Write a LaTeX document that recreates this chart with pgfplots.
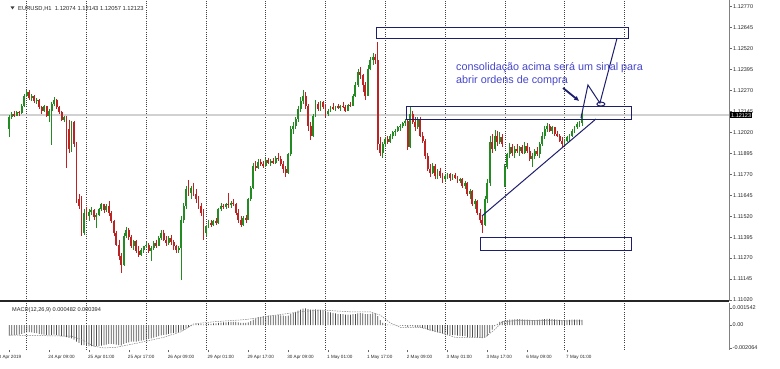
\documentclass[border=0pt]{standalone}
\usepackage{pgfplots}
\pgfplotsset{compat=1.18}
\usepackage{pgfplotstable}
\usetikzlibrary{arrows.meta}
\usepackage{fontspec}
\setmainfont{Liberation Sans}
\definecolor{bull}{RGB}{34,139,34}
\definecolor{bear}{RGB}{190,35,35}
\definecolor{navy}{RGB}{30,30,110}
\definecolor{notecol}{RGB}{70,70,205}

% prices stored as (price - 1.11000) x 100000
\pgfplotstableread{
i o h l c
-7 1040 1125 990 1110
-6 1110 1140 1100 1130
-5 1130 1145 1110 1120
-4 1120 1150 1115 1140
-3 1140 1150 1120 1135
-2 1135 1190 1130 1175
-1 1175 1250 1170 1240
0 1240 1273 1230 1262
1 1262 1270 1215 1225
2 1225 1250 1210 1240
3 1240 1245 1195 1205
4 1205 1225 1190 1215
5 1215 1220 1160 1170
6 1170 1180 1130 1150
7 1150 1185 1140 1175
8 1175 1180 1110 1120
9 1120 1160 1082 1150
10 1150 1200 945 1190
11 1190 1231 1180 1215
12 1215 1220 1160 1170
13 1170 1180 1130 1140
14 1140 1150 1090 1095
15 1095 1120 1085 1110
16 1110 1120 810 1040
17 1040 1095 900 920
18 920 1090 905 1080
19 1080 1090 930 950
20 950 960 600 620
21 620 650 560 580
22 580 640 400 420
23 420 560 410 540
24 540 575 500 520
25 520 560 490 545
26 545 575 530 555
27 555 560 500 515
28 515 540 450 530
29 530 570 520 560
30 560 600 550 590
31 590 595 540 555
32 555 590 545 580
33 580 610 520 540
34 540 550 480 490
35 490 500 400 420
36 420 430 340 350
37 350 380 260 280
38 280 300 181 230
39 230 420 225 400
40 400 456 390 440
41 440 450 380 395
42 395 410 330 345
43 345 380 320 370
44 370 375 300 310
45 310 340 276 290
46 290 330 285 320
47 320 345 300 340
48 340 366 330 350
49 350 360 300 310
50 310 340 250 330
51 330 370 320 360
52 360 380 330 345
53 345 400 340 390
54 390 438 380 420
55 420 440 370 380
56 380 400 340 360
57 360 400 350 390
58 390 410 350 365
59 365 380 320 340
60 340 350 300 320
61 320 345 300 330
62 330 520 139 500
63 500 600 480 580
64 580 700 560 680
65 680 736 640 660
66 660 700 620 690
67 690 720 640 650
68 650 680 600 620
69 620 640 560 580
70 580 600 520 540
71 540 560 380 420
72 420 470 400 460
73 460 500 450 480
74 480 495 455 470
75 470 500 460 490
76 490 510 470 480
77 480 570 475 560
78 560 600 550 580
79 580 590 560 575
80 575 600 560 590
81 590 658 570 585
82 585 610 570 600
83 600 620 580 590
84 590 600 530 540
85 540 560 480 500
86 500 520 455 470
87 470 520 460 510
88 510 530 480 500
89 500 630 495 620
90 620 700 610 690
91 690 840 680 820
92 820 850 790 810
93 810 860 800 845
94 845 860 820 830
95 830 850 810 820
96 820 870 815 855
97 855 870 830 840
98 840 860 820 850
99 850 870 830 835
100 835 880 830 870
101 870 897 850 860
102 860 880 820 830
103 830 850 780 800
104 800 820 754 780
105 780 900 770 890
106 890 1060 880 1040
107 1040 1080 1010 1060
108 1060 1110 1040 1100
109 1100 1180 1080 1160
110 1160 1230 1140 1210
111 1210 1273 1190 1240
112 1240 1260 1160 1180
113 1180 1190 1030 1060
114 1060 1080 975 1000
115 1000 1130 990 1120
116 1120 1213 1110 1190
117 1190 1200 1150 1160
118 1160 1210 1150 1200
119 1200 1210 1160 1170
120 1170 1190 1112 1130
121 1130 1160 1120 1150
122 1150 1180 1140 1170
123 1170 1195 1155 1160
124 1160 1180 1145 1175
125 1175 1190 1160 1165
126 1165 1185 1150 1180
127 1180 1200 1165 1170
128 1170 1185 1140 1150
129 1150 1190 1145 1185
130 1185 1200 1170 1180
131 1180 1250 1175 1240
132 1240 1320 1230 1300
133 1300 1400 1290 1380
134 1380 1410 1340 1360
135 1360 1370 1260 1300
136 1300 1320 1213 1240
137 1240 1420 1235 1400
138 1400 1470 1390 1450
139 1450 1494 1420 1470
140 1470 1490 1430 1450
141 1450 1560 915 950
142 950 990 880 900
143 900 960 867 950
144 950 990 930 980
145 980 1000 950 960
146 960 1010 955 1000
147 1000 1030 980 1020
148 1020 1040 1000 1030
149 1030 1060 1020 1050
150 1050 1070 1030 1060
151 1060 1085 1045 1075
152 1075 1100 1060 1090
153 1090 1100 915 930
154 930 1171 925 1130
155 1130 1150 1070 1080
156 1080 1110 1030 1050
157 1050 1112 1040 1100
158 1100 1110 990 1000
159 1000 1020 957 970
160 970 980 860 880
161 880 900 790 800
162 800 830 754 780
163 780 837 770 820
164 820 830 740 760
165 760 800 740 790
166 790 810 750 760
167 760 780 718 740
168 740 770 730 760
169 760 780 740 770
170 770 778 730 745
171 745 770 735 765
172 765 778 740 750
173 750 760 720 730
174 730 750 718 740
175 740 745 690 700
176 700 730 680 720
177 720 725 640 650
178 650 680 620 670
179 670 675 580 590
180 590 620 560 610
181 610 615 530 540
182 540 560 480 500
183 500 520 420 470
184 470 640 460 620
185 620 740 600 720
186 720 1000 700 960
187 960 1010 900 920
188 920 1034 910 1000
189 1000 1030 940 960
190 960 1020 950 990
191 990 1010 930 950
192 700 830 694 813
193 813 900 800 890
194 890 957 870 930
195 930 950 880 900
196 900 940 870 920
197 920 950 900 910
198 910 940 880 930
199 930 945 890 900
200 900 960 890 940
201 940 955 900 910
202 910 930 850 860
203 860 900 813 880
204 880 920 860 910
205 910 933 880 890
206 890 960 870 950
207 950 1020 940 1000
208 1000 1060 980 1040
209 1040 1076 1020 1060
210 1060 1070 1020 1030
211 1030 1060 1010 1050
212 1050 1055 1000 1010
213 1010 1030 990 1000
214 1000 1010 960 970
215 970 990 933 950
216 950 980 940 970
217 970 1000 960 990
218 990 1010 970 1000
219 1000 1040 990 1030
220 1030 1060 1015 1050
221 1050 1080 1040 1070
222 1070 1090 1050 1074
223 1074 1143 1057 1123
}\candles

\pgfplotstableread{
i m
-7 -0.00095
-6 -0.00092
-5 -0.0009
-4 -0.00088
-3 -0.00085
-2 -0.0008
-1 -0.00072
0 -0.00065
1 -0.00064
2 -0.00066
3 -0.0007
4 -0.00072
5 -0.00078
6 -0.00084
7 -0.00086
8 -0.0009
9 -0.00092
10 -0.0009
11 -0.00086
12 -0.0009
13 -0.00095
14 -0.001
15 -0.00102
16 -0.00108
17 -0.00115
18 -0.0012
19 -0.0013
20 -0.0015
21 -0.0016
22 -0.0018
23 -0.0018
24 -0.00185
25 -0.0019
26 -0.0019
27 -0.00192
28 -0.0019
29 -0.00188
30 -0.00185
31 -0.0018
32 -0.00175
33 -0.0017
34 -0.0017
35 -0.00172
36 -0.00175
37 -0.0018
38 -0.00182
39 -0.0017
40 -0.0016
41 -0.00155
42 -0.0015
43 -0.00148
44 -0.00148
45 -0.00145
46 -0.0014
47 -0.00135
48 -0.0013
49 -0.00125
50 -0.0012
51 -0.00112
52 -0.00105
53 -0.001
54 -0.00092
55 -0.00088
56 -0.00085
57 -0.0008
58 -0.00075
59 -0.0007
60 -0.00068
61 -0.00062
62 -0.0005
63 -0.0004
64 -0.0003
65 -0.0002
66 -0.0001
67 0.00002
68 0.00008
69 0.0001
70 0.0001
71 0.00005
72 0.00008
73 0.0001
74 0.00012
75 0.00015
76 0.00015
77 0.0002
78 0.00022
79 0.00025
80 0.00025
81 0.00028
82 0.0003
83 0.0003
84 0.00028
85 0.00025
86 0.0002
87 0.0002
88 0.0002
89 0.00025
90 0.00035
91 0.0005
92 0.0006
93 0.0007
94 0.00075
95 0.0008
96 0.00082
97 0.00085
98 0.00085
99 0.00085
100 0.00088
101 0.0009
102 0.00088
103 0.00085
104 0.0008
105 0.00085
106 0.001
107 0.0011
108 0.0012
109 0.0013
110 0.0014
111 0.00148
112 0.0015
113 0.00145
114 0.0014
115 0.0014
116 0.00142
117 0.0014
118 0.00138
119 0.00132
120 0.00125
121 0.0012
122 0.00115
123 0.0011
124 0.00105
125 0.001
126 0.001
127 0.00098
128 0.00095
129 0.00095
130 0.00095
131 0.00098
132 0.001
133 0.00105
134 0.00108
135 0.00105
136 0.001
137 0.001
138 0.00102
139 0.00105
140 0.00105
141 0.0008
142 0.00045
143 0.0002
144 0.0001
145 0.00005
146 0.00003
147 0.00002
148 0.00001
149 -0.00002
150 -0.00005
151 -0.00008
152 -0.0001
153 -0.00015
154 -0.0001
155 -0.00012
156 -0.00015
157 -0.00018
158 -0.0002
159 -0.00025
160 -0.0003
161 -0.0004
162 -0.0005
163 -0.00055
164 -0.0006
165 -0.00065
166 -0.0007
167 -0.00075
168 -0.0008
169 -0.00085
170 -0.00088
171 -0.0009
172 -0.0009
173 -0.00095
174 -0.00098
175 -0.001
176 -0.001
177 -0.00105
178 -0.00108
179 -0.0011
180 -0.0011
181 -0.00112
182 -0.00115
183 -0.00118
184 -0.0011
185 -0.001
186 -0.0007
187 -0.0004
188 -0.0001
189 0.0001
190 0.0003
191 0.00035
192 0.0004
193 0.00045
194 0.0005
195 0.0005
196 0.00052
197 0.00055
198 0.00055
199 0.00052
200 0.0005
201 0.0005
202 0.00048
203 0.00045
204 0.00045
205 0.00048
206 0.0005
207 0.00052
208 0.00055
209 0.00056
210 0.00056
211 0.00055
212 0.00052
213 0.0005
214 0.00048
215 0.00046
216 0.00046
217 0.00047
218 0.00048
219 0.0005
220 0.0005
221 0.0005
222 0.00049
223 0.00048
}\macd

\pgfplotstableread{
i s
-7 -0.0009
18 -0.001
22 -0.0013
27 -0.0019
31 -0.00206
36 -0.002
45 -0.0016
55 -0.0011
62 -0.0006
67 0.0001
75 0.0003
88 0.0005
100 0.0009
110 0.0012
118 0.00136
130 0.0012
138 0.0012
142 0.0009
146 0.0002
150 -0.0002
158 -0.0002
165 -0.0006
172 -0.0011
184 -0.0011
188 -0.0004
191 0.0003
196 0.0004
223 0.00039
}\signal

\tikzset{gridline/.style={black!75, line width=0.55pt, dash pattern=on 1pt off 1.2pt}}

\begin{document}
\begin{tikzpicture}[x=1pt,y=1pt]
\useasboundingbox (0,0) rectangle (780,369);
\clip (0,0) rectangle (780,369);

% ---------------- price panel ----------------
\begin{axis}[
  at={(0pt,68pt)}, anchor=south west,
  width=729pt, height=301pt, scale only axis,
  xmin=-10.72, xmax=282.05, ymin=14, ymax=1810,
  axis line style={draw=none},
  xtick=\empty,
  ytick={20,145,...,1770},
  yticklabels={1.11020,1.11145,1.11270,1.11395,1.11520,1.11645,1.11770,1.11895,1.12020,1.12145,1.12270,1.12395,1.12520,1.12645,1.12770},
  ytick pos=right, yticklabel pos=right,
  tick align=outside, major tick length=3pt,
  tick style={black!60, line width=0.4pt},
  yticklabel style={font=\fontsize{5.5}{6}\selectfont, inner sep=0pt, anchor=west, xshift=1pt, text=black!85},
  clip mode=individual,
]
\pgfplotsinvokeforeach{0,24,...,240}{\draw[gridline] (axis cs:#1,14) -- (axis cs:#1,1810);}
\draw[black!18, line width=1.6pt] (axis cs:-10.72,1123) -- (axis cs:282.05,1123);

% wicks
\addplot[draw=none, mark=none, forget plot, restrict y to domain=0:5000,
  error bars/.cd, y dir=minus, y explicit, error mark=none,
  error bar style={draw=bull, line width=0.6pt, solid}]
  table[x=i, y expr={\thisrow{c}>=\thisrow{o} ? \thisrow{h} : -9999},
        y error minus expr={\thisrow{h}-\thisrow{l}}] {\candles};
\addplot[draw=none, mark=none, forget plot, restrict y to domain=0:5000,
  error bars/.cd, y dir=minus, y explicit, error mark=none,
  error bar style={draw=bear, line width=0.6pt, solid}]
  table[x=i, y expr={\thisrow{c}<\thisrow{o} ? \thisrow{h} : -9999},
        y error minus expr={\thisrow{h}-\thisrow{l}}] {\candles};
% bodies
\addplot[draw=none, mark=none, forget plot, restrict y to domain=0:5000,
  error bars/.cd, y dir=minus, y explicit, error mark=none,
  error bar style={draw=bull, line width=1.9pt, solid}]
  table[x=i, y expr={\thisrow{c}>=\thisrow{o} ? \thisrow{c} : -9999},
        y error minus expr={max(\thisrow{c}-\thisrow{o},4)}] {\candles};
\addplot[draw=none, mark=none, forget plot, restrict y to domain=0:5000,
  error bars/.cd, y dir=minus, y explicit, error mark=none,
  error bar style={draw=bear, line width=1.9pt, solid}]
  table[x=i, y expr={\thisrow{c}<\thisrow{o} ? \thisrow{o} : -9999},
        y error minus expr={max(\thisrow{o}-\thisrow{c},4)}] {\candles};

% borders
\draw[black!85, line width=1.4pt] (rel axis cs:0,0) -- (rel axis cs:1,0);
\draw[black!50, line width=0.6pt] (rel axis cs:1,0) -- (rel axis cs:1,1);

% annotations
\draw[navy, line width=1pt] (axis cs:140.3,1583) rectangle (axis cs:241.5,1643);
\draw[navy, line width=1pt] (axis cs:152.7,1094) rectangle (axis cs:242.7,1177);
\draw[navy, line width=1pt] (axis cs:182.4,318) rectangle (axis cs:242.7,390);
\draw[navy, line width=1pt] (axis cs:182.8,521) -- (axis cs:228.6,1100);
\draw[navy, line width=1pt] (axis cs:222.6,1106) -- (axis cs:225.4,1303) -- (axis cs:230.2,1195) -- (axis cs:237.1,1583);
\draw[navy, line width=1pt] (axis cs:230.6,1189) ellipse [x radius=4pt, y radius=2pt];
\draw[navy, line width=1.8pt, -{Latex[length=5pt,width=5pt]}] (axis cs:215.4,1285) -- (axis cs:221.9,1207);
\node[anchor=base west, inner sep=0pt, text=notecol, font=\fontsize{10.8}{13}\selectfont] at (axis cs:172.4,1389) {consolidação acima será um sinal para};
\node[anchor=base west, inner sep=0pt, text=notecol, font=\fontsize{10.8}{13}\selectfont] at (axis cs:172.4,1309) {abrir ordens de compra};

% current price box
\node[anchor=west, fill=black, text=white, inner xsep=1pt, inner ysep=0.8pt, font=\fontsize{5.5}{6}\selectfont, xshift=1pt] at (axis cs:282.05,1123) {1.12123};
\end{axis}

% ---------------- MACD panel ----------------
\begin{axis}[
  at={(0pt,19pt)}, anchor=south west,
  width=729pt, height=47pt, scale only axis,
  xmin=-10.72, xmax=282.05, ymin=-0.002244, ymax=0.001993,
  axis line style={draw=none},
  xtick={9,25,...,217},
  xticklabels={24 Apr 09:00,25 Apr 01:00,25 Apr 17:00,26 Apr 09:00,29 Apr 01:00,29 Apr 17:00,30 Apr 09:00,1 May 01:00,1 May 17:00,2 May 09:00,3 May 01:00,3 May 17:00,6 May 09:00,7 May 01:00},
  extra x ticks={-7}, extra x tick labels={23 Apr 2019},
  extra x tick style={xticklabel style={xshift=-12.3pt}},
  xtick pos=bottom, xticklabel pos=bottom,
  xticklabel style={font=\fontsize{4.6}{5}\selectfont, inner sep=0pt, anchor=north west, xshift=-1pt, yshift=-3pt, text=black!85},
  ytick={-0.002064,0,0.001542},
  yticklabels={-0.002064,0.00,0.001542},
  ytick pos=right, yticklabel pos=right,
  tick align=outside, major tick length=2.5pt,
  tick style={black!60, line width=0.4pt},
  yticklabel style={font=\fontsize{5.5}{6}\selectfont, inner sep=0pt, anchor=west, xshift=1pt, text=black!85},
  scaled y ticks=false,
  clip mode=individual,
]
\pgfplotsinvokeforeach{0,24,...,240}{\draw[gridline] (axis cs:#1,-0.002244) -- (axis cs:#1,0.001993);}
\addplot[ybar, bar width=0.75pt, draw=none, fill=black!70] table[x=i, y=m] {\macd};
\addplot[black!50, dash pattern=on 1.5pt off 1pt, line width=0.5pt, mark=none] table[x=i, y=s] {\signal};
\draw[black!50, line width=0.6pt] (rel axis cs:1,0) -- (rel axis cs:1,1);
\end{axis}

% captions
\fill[black!75] (10.5,362.5) -- (14.5,362.5) -- (12.5,359.5) -- cycle;
\node[anchor=base west, inner sep=0pt, font=\fontsize{5.8}{6}\selectfont, text=black!85] at (18,358.8) {EURUSD,H1\ \ 1.12074 1.12143 1.12057 1.12123};
\node[anchor=base west, inner sep=0pt, font=\fontsize{5.6}{6}\selectfont, text=black!85] at (12,57) {MACD(12,26,9) 0.000482 0.000394};
\end{tikzpicture}
\end{document}
